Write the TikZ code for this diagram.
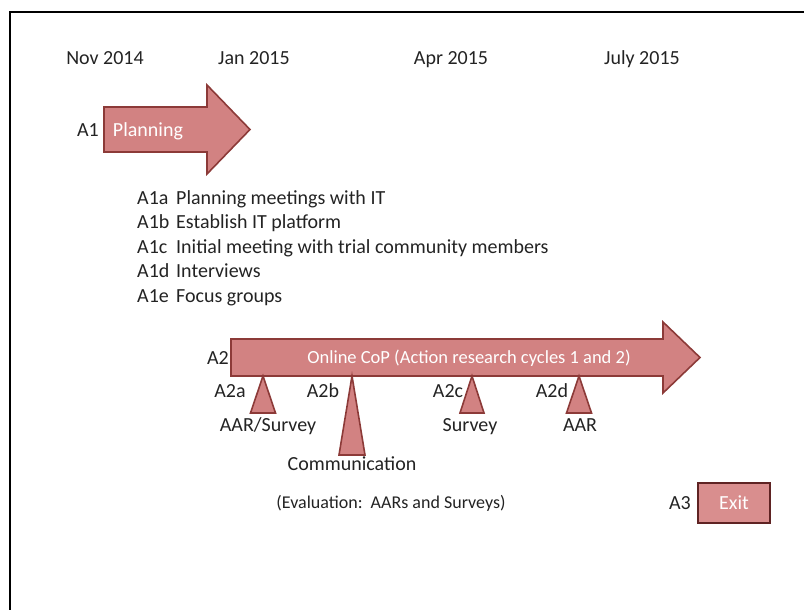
\documentclass[tikz,border=0pt]{standalone}
\usepackage{fontspec}
\setmainfont{Carlito}
\definecolor{arrfill}{RGB}{210,130,130}
\definecolor{arrline}{RGB}{140,58,56}
\definecolor{exitfill}{RGB}{217,142,142}
\definecolor{exitline}{RGB}{95,35,35}
\definecolor{txtc}{RGB}{35,35,35}
\begin{document}
\begin{tikzpicture}[x=1pt,y=-1pt,
  txt/.style={font=\fontsize{20}{24}\selectfont, text=txtc, inner sep=0pt, text height=13pt, text depth=0pt},
  smalltxt/.style={txt, font=\fontsize{18.5}{22}\selectfont, text height=12pt},
  wtxt/.style={txt, text=white},
  shapeA/.style={fill=arrfill, draw=arrline, line width=1.6pt, line join=miter},
  exitbox/.style={wtxt, fill=exitfill, draw=exitline, line width=2.2pt, minimum width=72pt, minimum height=40pt}]
\useasboundingbox (0,0) rectangle (804,610);
\draw[line width=2pt] (9.5,610) -- (9.5,12.5) -- (804,12.5);
% dates
\node[txt] (d1) at (105,58) {Nov 2014};
\node[txt] (d2) at (254,58) {Jan 2015};
\node[txt] (d3) at (451,58) {Apr 2015};
\node[txt] (d4) at (642,58) {July 2015};
% planning arrow
\draw[shapeA] (104,107) -- (207,107) -- (207,85) -- (250,129.5) -- (207,174) -- (207,152) -- (104,152) -- cycle;
\node[txt] (a1) at (88,129.5) {A1};
\node[wtxt] (plan) at (148,129.5) {Planning};
% list
\foreach \l/\t/\y [count=\i] in {A1a/Planning meetings with IT/198, A1b/Establish IT platform/222, A1c/Initial meeting with trial community members/247, A1d/Interviews/271, A1e/Focus groups/296}{
  \node[txt, anchor=west] (l\i) at (137,\y) {\l};
  \node[txt, anchor=west] (t\i) at (176,\y) {\t};
}
% online CoP arrow
\draw[shapeA] (231,339) -- (663,339) -- (663,322) -- (700,357.5) -- (663,393) -- (663,376) -- (231,376) -- cycle;
\node[txt] (a2) at (218,357.5) {A2};
\node[smalltxt, text=white] (cop) at (469,357.5) {Online CoP (Action research cycles 1 and 2)};
% triangles
\draw[shapeA] (263,376) -- (275.5,413) -- (250.5,413) -- cycle;
\draw[shapeA] (352,376) -- (365,455) -- (339,455) -- cycle;
\draw[shapeA] (472,376) -- (484,413) -- (460,413) -- cycle;
\draw[shapeA] (579,376) -- (591.5,413) -- (566.5,413) -- cycle;
\node[txt] (a2a) at (230,391) {A2a};
\node[txt] (a2b) at (323,391) {A2b};
\node[txt] (a2c) at (448,391) {A2c};
\node[txt] (a2d) at (552,391) {A2d};
\node[txt] (s1) at (268,425) {AAR/Survey};
\node[txt] (s2) at (352,464) {Communication};
\node[txt] (s3) at (470,425) {Survey};
\node[txt] (s4) at (580,425) {AAR};
\node[smalltxt, font=\fontsize{18}{22}\selectfont] (ev) at (391,502) {(Evaluation:\ \ AARs and Surveys)};
% exit
\node[exitbox] (exit) at (734,503) {Exit};
\node[txt] (a3) at (680,503) {A3};
\end{tikzpicture}
\end{document}
